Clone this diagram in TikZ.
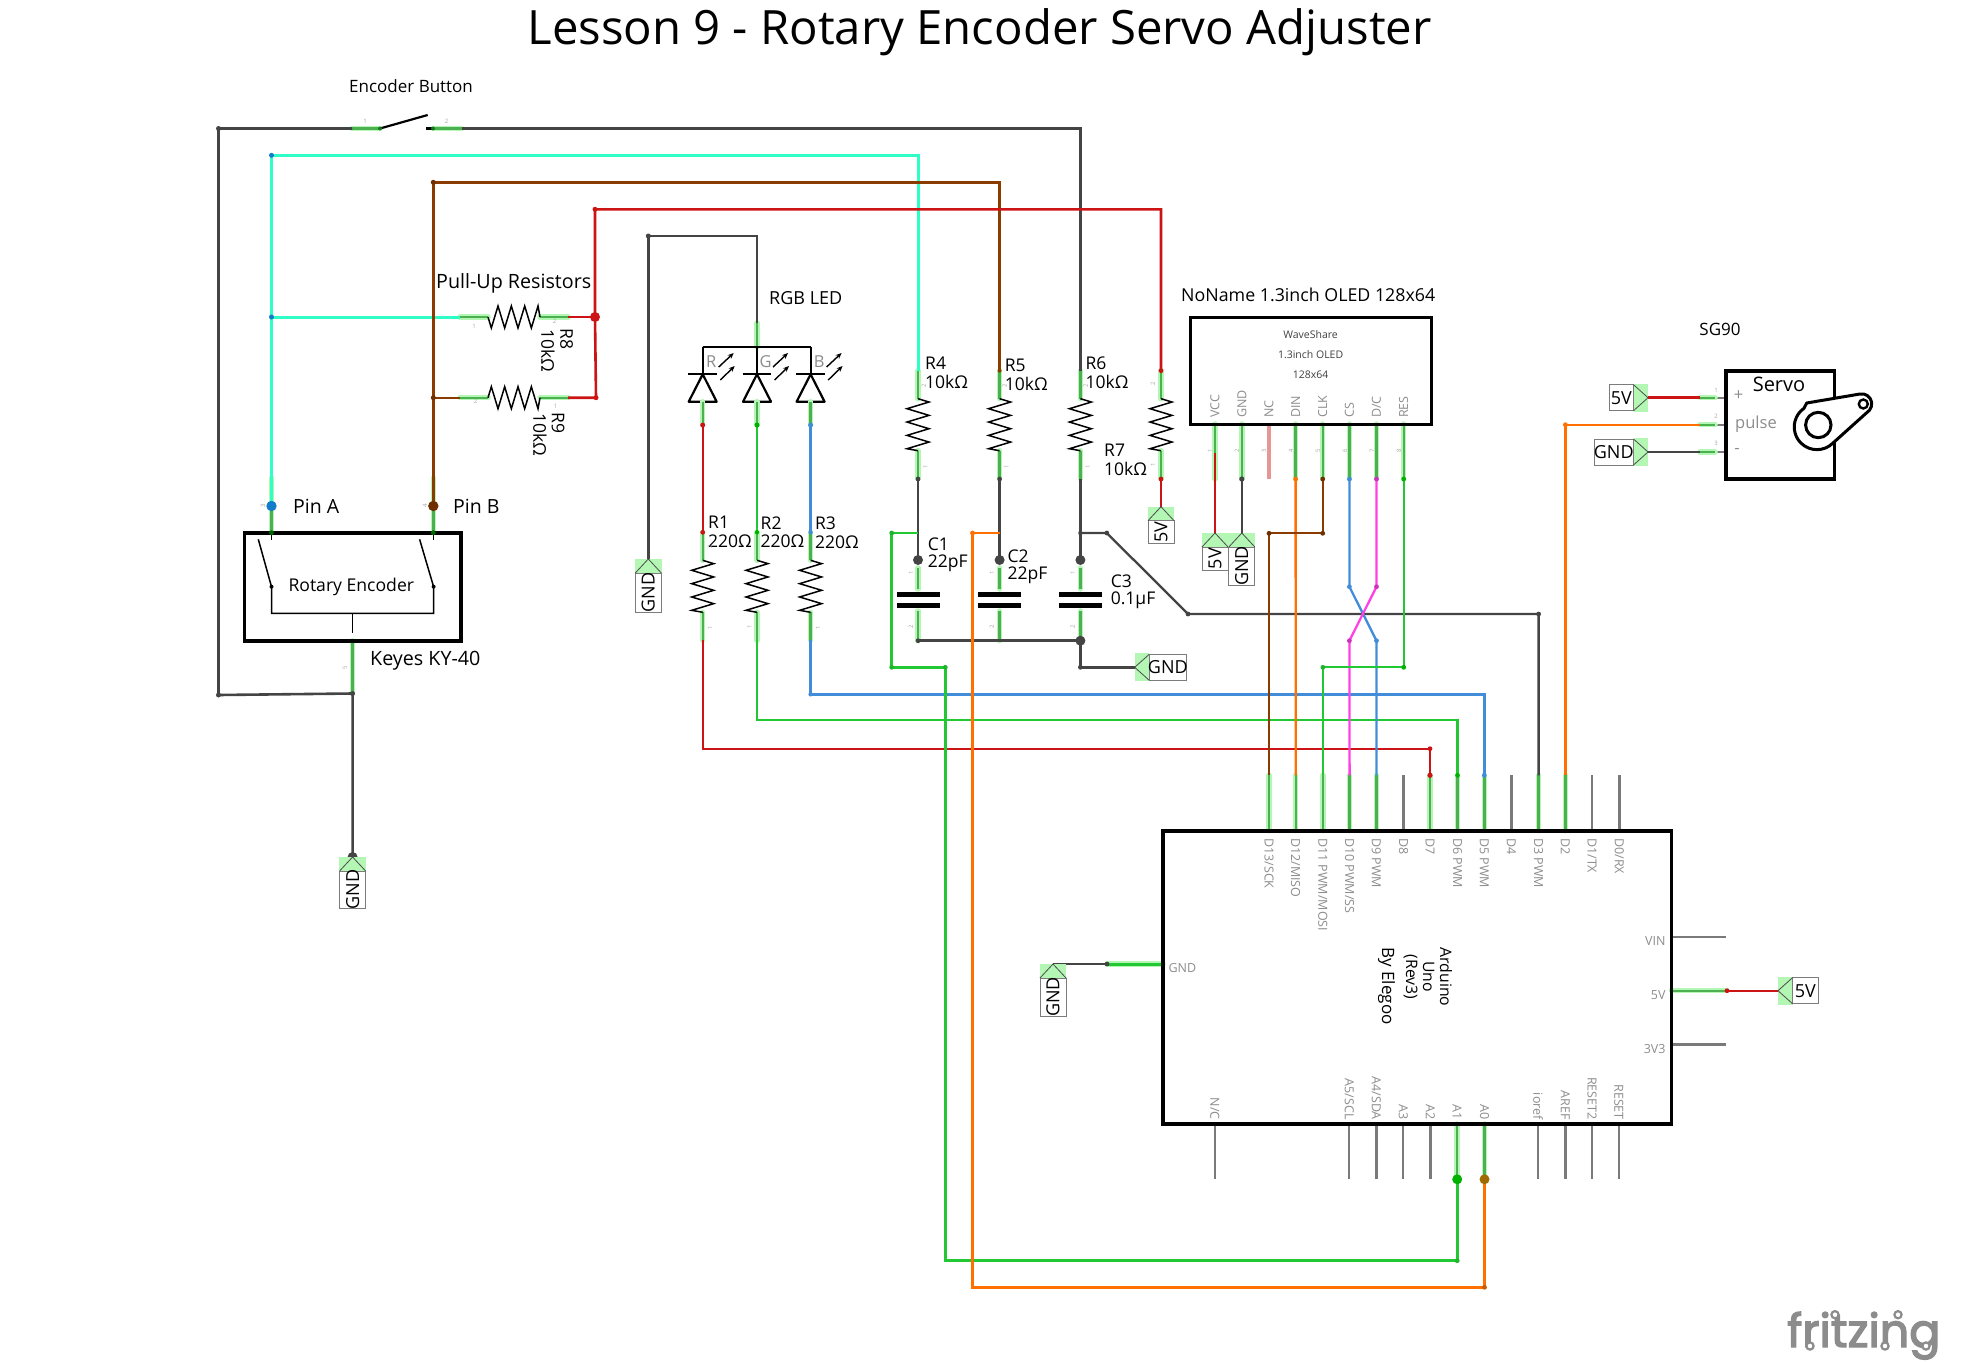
\documentclass[tikz,border=0pt]{standalone}
\usepackage{fontspec}
\setmainfont{Open Sans}
\newfontfamily\logofont[FakeBold=3]{Poppins}
\usetikzlibrary{arrows.meta}
\definecolor{wcyan}{HTML}{2FFFC6}
\definecolor{wbrown}{HTML}{8A3C00}
\definecolor{wred}{HTML}{CC1414}
\definecolor{wdark}{HTML}{444444}
\definecolor{wgreen}{HTML}{22C832}
\definecolor{worange}{HTML}{FF7000}
\definecolor{wblue}{HTML}{418DD9}
\definecolor{wmag}{HTML}{FF40E6}
\definecolor{halog}{HTML}{B4F7B4}
\definecolor{ping}{HTML}{4CAF50}
\definecolor{pingray}{HTML}{7A7A7A}
\definecolor{txtgray}{HTML}{8C8C8C}
\tikzset{
  wire/.style={line width=2.3pt,line join=miter},
  halopin/.style={line width=5.5pt,color=halog,line cap=round},
  corepin/.style={line width=2.4pt,color=ping},
  graypin/.style={line width=2.4pt,color=pingray},
  body/.style={line width=2.2pt,color=black,line join=round},
  board/.style={draw=black,line width=3.6pt},
  lab/.style={draw=wdark!70,line width=1pt},
  t16/.style={font=\fontsize{18}{20}\selectfont,inner sep=0pt,text=black},
  t17/.style={font=\fontsize{19.7}{21}\selectfont,inner sep=0pt,text=black},
  gl/.style={font=\fontsize{12.5}{14}\selectfont,inner sep=0pt,text=txtgray},
  pn/.style={font=\fontsize{6}{7}\selectfont,inner sep=0pt,text=black!35},
  ledl/.style={font=\fontsize{16.5}{18}\selectfont,inner sep=0pt,text=txtgray},
  pinsp/.style={font=\fontsize{17.5}{19}\selectfont,inner sep=0pt,text=black},
  res/.pic={
    \draw[halopin] (0,0)--(28,0); \draw[corepin] (0,0)--(28,0);
    \draw[halopin] (80,0)--(108,0); \draw[corepin] (80,0)--(108,0);
    \draw[line width=1.5pt,line join=miter] (28,0)--++(3.33,11)--++(6.67,-22)--++(6.67,22)--++(6.67,-22)--++(6.67,22)--++(6.67,-22)--++(6.67,22)--++(6.67,-22)--(80,0);
  },
  cap/.pic={
    \draw[halopin] (0,-32)--(0,-11); \draw[corepin] (0,-32)--(0,-11);
    \draw[halopin] (0,11)--(0,40.7); \draw[corepin] (0,11)--(0,40.7);
    \fill (-21.5,-8) rectangle (21.5,-2.6);
    \fill (-21.5,3) rectangle (21.5,8.4);
  }
}
\newcommand\gp[2]{\draw[halopin] (#1)--(#2);\draw[corepin] (#1)--(#2);}
\newcommand\labD[4]{\begin{scope}[shift={(#1)}]
  \fill[halog] (-13.4,0) rectangle (13.4,14);
  \draw[lab,fill=white] (-13,14) rectangle (13,#2);
  \draw[lab,line width=.8pt,draw=black!70] (-13,14)--(0,0)--(13,14);
  \node[rotate=90,#4] (lab#1) at (0,{(14+#2)/2}) {#3};
\end{scope}}
\newcommand\labL[4]{\begin{scope}[shift={(#1)}]
  \fill[halog] (-14.5,-14) rectangle (0,14);
  \draw[lab,fill=white] (-14.5,-13) rectangle (-#2,13);
  \draw[lab,line width=.8pt,draw=black!70] (-14.5,-13)--(0,0)--(-14.5,13);
  \node[#4] (lab#1) at ({-(14.5+#2)/2},0) {#3};
\end{scope}}
\newcommand\labR[4]{\begin{scope}[shift={(#1)}]
  \fill[halog] (14.5,-14) rectangle (0,14);
  \draw[lab,fill=white] (14.5,-13) rectangle (#2,13);
  \draw[lab,line width=.8pt,draw=black!70] (14.5,-13)--(0,0)--(14.5,13);
  \node[#4] (lab#1) at ({(14.5+#2)/2},0) {#3};
\end{scope}}
\newcommand\ledsym[3]{\begin{scope}[shift={(#1)}]
  \draw[body] (0,0)--(0,27);
  \draw[body] (-14.3,27.3)--(14.3,27.3);
  \draw[body] (0,27.3)--(-14,54.7)--(14,54.7)--cycle;
  \gp{0,54.7}{0,78}
  \node[ledl] (led#2) at (8.5,14.7) {#2};
  \draw[line width=1.4pt,-{Stealth[length=6pt,width=5pt]}] (16,20)--(31,6);
  \draw[line width=1.4pt,-{Stealth[length=6pt,width=5pt]}] (17.6,33)--(32,19);
\end{scope}}
\newcommand\jn[3]{\fill[#1] (#2) circle[radius=#3pt];}
\begin{document}
\begin{tikzpicture}[x=1pt,y=-1pt]
\useasboundingbox (0,0) rectangle (1962,1362);
% named points
\coordinate (swL) at (218.5,128.5);
\coordinate (s1a) at (352,128.5);
\coordinate (s1b) at (380,128.5);
\coordinate (s1c) at (427.7,115);
\coordinate (s2z) at (426,128.5);
\coordinate (s2a) at (433,128.5);
\coordinate (s2b) at (461.7,128.5);
\coordinate (swR) at (1080.4,128.5);
\coordinate (cyTL) at (271.5,155.3);
\coordinate (cyTR) at (918,155.3);
\coordinate (brTL) at (433.3,182.3);
\coordinate (brTR) at (999.6,182.3);
\coordinate (reTL) at (595,209.3);
\coordinate (reTR) at (1161,209.3);
\coordinate (ldTL) at (648.3,236);
\coordinate (ldTR) at (757,236);
\coordinate (cyJ) at (271.5,317);
\coordinate (r8a) at (460,317);
\coordinate (r8b) at (568,317);
\coordinate (reJ) at (595,317);
\coordinate (brJ) at (433.3,397.7);
\coordinate (r9a) at (460,397.7);
\coordinate (r9b) at (568,397.7);
\coordinate (reB) at (596,397.7);
\coordinate (pA) at (271.5,506);
\coordinate (pB) at (433.3,506);
\coordinate (pAt) at (271.5,478);
\coordinate (pBt) at (433.3,478);
\coordinate (pAb) at (271.5,532.7);
\coordinate (pBb) at (433.3,532.7);
\coordinate (pC) at (352.6,640.7);
\coordinate (pCb) at (352.6,693.5);
\coordinate (swLb) at (218.5,695);
\coordinate (gE) at (352.6,857);
\coordinate (gL) at (648.3,559);
\coordinate (ledR) at (702.7,347);
\coordinate (ledG) at (757,347);
\coordinate (ledB) at (810.6,347);
\coordinate (ledGt) at (757,323);
\coordinate (ldR) at (702.7,425);
\coordinate (ldG) at (757,425);
\coordinate (ldB) at (810.6,425);
\coordinate (r1a) at (702.7,532.3);
\coordinate (r2a) at (757,532.3);
\coordinate (r3a) at (810.6,532.3);
\coordinate (r1b) at (702.7,640);
\coordinate (r2b) at (757,640);
\coordinate (r3b) at (810.6,640);
\coordinate (r1c) at (702.7,748.7);
\coordinate (r2c) at (757,720);
\coordinate (r3c) at (810.6,694.3);
\coordinate (d7t) at (1430,748.7);
\coordinate (d6t) at (1457.5,720);
\coordinate (d5t) at (1484.3,694.3);
\coordinate (d13) at (1269,775.3);
\coordinate (d12) at (1295.7,775.3);
\coordinate (d11) at (1322.9,775.3);
\coordinate (d10) at (1349.6,775.3);
\coordinate (d9) at (1376.4,775.3);
\coordinate (d8) at (1403.6,775.3);
\coordinate (d7) at (1430,775.3);
\coordinate (d6) at (1457.5,775.3);
\coordinate (d5) at (1484.3,775.3);
\coordinate (d4) at (1511.4,775.3);
\coordinate (d3) at (1538.6,775.3);
\coordinate (d2) at (1565.4,775.3);
\coordinate (d1) at (1592,775.3);
\coordinate (d0) at (1619.3,775.3);
\coordinate (r4t) at (918,370.7);
\coordinate (r5t) at (999.6,370.7);
\coordinate (r6t) at (1080.4,370.7);
\coordinate (r7t) at (1161,370.7);
\coordinate (r4b) at (918,479);
\coordinate (r5b) at (999.6,479);
\coordinate (r6b) at (1080.4,479);
\coordinate (r7b) at (1161,479);
\coordinate (g7) at (1161,506.7);
\coordinate (c1) at (918,600);
\coordinate (c2) at (999.6,600);
\coordinate (c3) at (1080.4,600);
\coordinate (c1t) at (918,560);
\coordinate (c2t) at (999.6,560);
\coordinate (c3t) at (1080.4,560);
\coordinate (c1b) at (918,640.7);
\coordinate (c3b) at (1080.4,640.7);
\coordinate (gC) at (1134.7,667.3);
\coordinate (gCa) at (1080.4,667.3);
\coordinate (c1J) at (918,533);
\coordinate (c2J) at (999.6,533);
\coordinate (c3J) at (1080.4,533);
\coordinate (grA) at (891.7,533);
\coordinate (grB) at (891.7,667.3);
\coordinate (grC) at (945.3,667.3);
\coordinate (grD) at (945.3,1260.7);
\coordinate (grE) at (1457.2,1260.7);
\coordinate (a1) at (1457.2,1179.3);
\coordinate (orA) at (972.5,533);
\coordinate (orD) at (972.5,1287.3);
\coordinate (orE) at (1484.5,1287.3);
\coordinate (a0) at (1484.5,1179.3);
\coordinate (dgA) at (1106.8,533);
\coordinate (dgB) at (1188,614);
\coordinate (dgC) at (1538.6,614);
\coordinate (o1) at (1215,479);
\coordinate (o2) at (1241.8,479);
\coordinate (o3) at (1269,479);
\coordinate (o4) at (1295.6,479);
\coordinate (o5) at (1322.7,479);
\coordinate (o6) at (1349.4,479);
\coordinate (o7) at (1376.5,479);
\coordinate (o8) at (1403.7,479);
\coordinate (o1r) at (1215,453);
\coordinate (g1) at (1215,533);
\coordinate (g2) at (1241.8,533);
\coordinate (cka) at (1322.7,533.3);
\coordinate (ckb) at (1269,533.3);
\coordinate (xa) at (1349.4,586.7);
\coordinate (xb) at (1376.5,586.7);
\coordinate (xc) at (1349.4,640.7);
\coordinate (xd) at (1376.5,640.7);
\coordinate (rsa) at (1403.7,667.3);
\coordinate (rsb) at (1322.9,667.3);
\coordinate (d2t) at (1565.4,424.7);
\coordinate (sv1) at (1700,397.7);
\coordinate (sv2) at (1700,424.7);
\coordinate (sv3) at (1700,452);
\coordinate (sv1m) at (1715,397.7);
\coordinate (sv2m) at (1715,424.7);
\coordinate (sv3m) at (1715,452);
\coordinate (sv1e) at (1726,397.7);
\coordinate (sv2e) at (1726,424.7);
\coordinate (sv3e) at (1726,452);
\coordinate (g5s) at (1648,397.7);
\coordinate (gGs) at (1648,452);
\coordinate (ardG) at (1163,964);
\coordinate (ardGm) at (1107,964);
\coordinate (gA) at (1053,964);
\coordinate (ard5) at (1671.4,990.7);
\coordinate (ard5m) at (1727,990.7);
\coordinate (g5r) at (1778,990.7);
% gray unconnected Arduino pins
\foreach \p in {d8,d4,d1,d0} {\draw[graypin] (\p)--++(0,55.4);}
\foreach \x in {1214.8,1349.2,1376.4,1403.2,1430.4,1538,1565.3,1592,1618.8} {\draw[graypin] (\x,1124)--(\x,1179.3);}
\draw[graypin] (1671.4,937)--(1726.4,937);
\draw[graypin] (1671.4,1044.3)--(1726.4,1044.3);
% green pins
\foreach \p in {d13,d12,d11,d10,d9,d7,d6,d5,d3,d2} {\draw[halopin] (\p)--++(0,55.4);\draw[corepin] (\p)--++(0,55.4);}
\gp{1457.2,1124}{a1}
\gp{1484.5,1124}{a0}
\gp{ard5}{ard5m}
\gp{ardG}{ardGm}
\gp{s1a}{s1b}
\gp{s2a}{s2b}
\gp{pAt}{pAb}
\gp{pBt}{pBb}
\gp{pC}{pCb}
\gp{ledGt}{ledG}
\foreach \p/\q in {o1/1215,o2/1241.8,o4/1295.6,o5/1322.7,o6/1349.4,o7/1376.5,o8/1403.7} {\gp{\q,424}{\p}}
\draw[line width=4.5pt,color=wred!45] (1269,424)--(o3);
\foreach \p in {1,2,3} {\draw[graypin] (sv\p)--(sv\p e); \draw[halopin] (sv\p)--(sv\p m); \draw[corepin] (sv\p)--(sv\p m);}
% resistors
\pic at (r8a) {res};
\pic[yscale=-1] at (r9a) {res};
\pic[rotate=-90,yscale=-1] at (r1a) {res};
\pic[rotate=-90,yscale=-1] at (r2a) {res};
\pic[rotate=-90,yscale=-1] at (r3a) {res};
\pic[rotate=-90,yscale=-1] at (r4t) {res};
\pic[rotate=-90,yscale=-1] at (r5t) {res};
\pic[rotate=-90,yscale=-1] at (r6t) {res};
\pic[rotate=-90,yscale=-1] at (r7t) {res};
\pic at (c1) {cap};
\pic at (c2) {cap};
\pic at (c3) {cap};
% LEDs
\draw[body] (ledR)--(ledB);
\ledsym{ledR}{R}{}
\ledsym{ledG}{G}{}
\ledsym{ledB}{B}{}
% wires
\draw[wire,wdark,line width=2.6pt] (s1a)--(swL)--(swLb)--(pCb)--(gE);
\draw[wire,wdark,line width=2.6pt] (s2b)--(swR)--(r6t);
\draw[wire,wcyan,line width=3pt] (r8a)--(cyJ);
\draw[wire,wcyan,line width=3pt] (pA)--(cyTL)--(cyTR)--(r4t);
\draw[wire,wbrown,line width=3pt] (pB)--(brTL)--(brTR)--(r5t);
\draw[wire,wbrown] (brJ)--(r9a);
\draw[wire,wred] (r8b)--(reJ);
\draw[wire,wred,line width=2.6pt] (r7t)--(reTR)--(reTL)--(reJ)--(reB)--(r9b);
\draw[wire,wdark,line width=2.6pt] (gL)--(ldTL)--(ldTR)--(ledGt);
\draw[wire,wred] (ldR)--(r1a);
\draw[wire,wgreen] (ldG)--(r2a);
\draw[wire,wblue] (ldB)--(r3a);
\draw[wire,wred] (r1b)--(r1c)--(d7t)--(d7);
\draw[wire,wgreen] (r2b)--(r2c)--(d6t)--(d6);
\draw[wire,wblue,line width=2.7pt] (r3b)--(r3c)--(d5t)--(d5);
\draw[wire,wdark,line width=2.6pt] (r4b)--(c1t);
\draw[wire,wdark,line width=2.6pt] (r5b)--(c2t);
\draw[wire,wdark,line width=2.6pt] (r6b)--(c3t);
\draw[wire,wred] (r7b)--(g7);
\draw[wire,wdark,line width=2.6pt] (c1b)--(c3b)--(gCa)--(gC);
\draw[wire,wgreen,line width=2.6pt] (c1J)--(grA)--(grB)--(grC)--(grD)--(grE)--(a1);
\draw[wire,worange,line width=2.6pt] (c2J)--(orA)--(orD)--(orE)--(a0);
\draw[wire,wdark] (c3J)--(dgA)--(dgB)--(dgC)--(d3);
\draw[wire,wred] (o1r)--(g1);
\draw[wire,wdark] (o2)--(g2);
\draw[wire,worange] (o4)--(d12);
\draw[wire,wbrown] (o5)--(cka)--(ckb)--(d13);
\draw[wire,wblue] (o6)--(xa)--(xd)--(d9);
\draw[wire,wmag] (o7)--(xb)--(xc)--(d10);
\draw[wire,wgreen] (o8)--(rsa)--(rsb)--(d11);
\draw[wire,worange] (d2)--(d2t)--(sv2);
\draw[wire,wred,line width=3pt] (g5s)--(sv1);
\draw[wire,wdark] (gGs)--(sv3);
\draw[wire,wdark] (gA)--(ardGm);
\draw[wire,wgreen,line width=3pt] (ardGm)--(ardG);
\draw[wire,wred] (ard5m)--(g5r);
% switch
\draw[body] (s1b)--(s1c);
\draw[body] (s2z)--(s2a);
% encoder
\draw[board] (244.3,532.7) rectangle (461,640.7);
\draw[line width=1.5pt] (258.3,539.3)--(271.5,586.7)--(271.5,613.3)--(433.6,613.3)--(433.6,586.7)--(419.6,539.3);
\draw[line width=1.5pt] (271.5,533)--(271.5,540);
\draw[line width=1.5pt] (433.4,533)--(433.4,540);
\draw[line width=1.5pt] (352.6,613.3)--(352.6,633);
% boards
\draw[board] (1162.9,830.7) rectangle (1671.4,1124);
\draw[board,line width=3pt] (1190.4,317.7) rectangle (1431.3,424);
\draw[board,line width=3.4pt] (1726,371) rectangle (1834.3,479);
% servo horn
\draw[line width=3pt,fill=white,line join=round] (1806.7,403)--(1860,394) arc[start angle=-100,end angle=40,radius=10]--(1833,443) arc[start angle=45,end angle=235,radius=22.7] -- cycle;
\draw[line width=3pt,fill=white] (1818.3,425) circle[radius=12.7];
\draw[line width=2.4pt,fill=white] (1863.3,404) circle[radius=4.5];
% dots
\jn{wgreen!60!black}{s1b}{2}
\jn{wgreen!60!black}{s2a}{2}
\jn{wdark}{swL}{2.5}
\jn{wdark}{swLb}{2.5}
\jn{wdark}{pCb}{2.5}
\jn{wdark}{gE}{5}
\jn{cyan!60!blue}{cyTL}{2.5}
\jn{wbrown!80!black}{brTL}{2.5}
\jn{wred}{reTL}{2.5}
\jn{wdark}{ldTL}{2.5}
\jn{cyan!60!blue}{cyJ}{2.5}
\jn{wred}{reJ}{5}
\jn{wbrown!80!black}{brJ}{2.5}
\jn{wred}{reB}{2.5}
\jn{cyan!60!blue}{pA}{5.2}
\jn{wbrown!80!black}{pB}{5.2}
\jn{green!40!black}{pAb}{2.4}
\jn{green!40!black}{pBb}{2.4}
\jn{black}{271.5,586.7}{2}
\jn{black}{433.6,586.7}{2}
\jn{wred}{ldR}{2.5}
\jn{green!70!black}{ldG}{2.5}
\jn{wblue}{ldB}{2.5}
\jn{wred}{r1a}{2.4}
\jn{green!70!black}{r2a}{2.2}
\jn{wblue}{r3a}{2.2}
\jn{wbrown}{r5t}{2}
\jn{wred}{r7t}{2.4}
\jn{wred}{r7b}{2.4}
\jn{wdark}{r4b}{2.4}
\jn{wdark}{r5b}{2.4}
\jn{wdark}{c1t}{5}
\jn{wdark}{c2t}{5}
\jn{wdark}{c3t}{5}
\jn{wdark}{c1b}{2.4}
\jn{wdark}{c3b}{5}
\jn{wdark}{gCa}{2.4}
\jn{wgreen!90!black}{grA}{2.4}
\jn{wgreen!90!black}{grB}{2.4}
\jn{wgreen!90!black}{grC}{2.4}
\jn{wgreen!90!black}{grE}{2.4}
\jn{worange}{orA}{2.4}
\jn{worange!80!black}{orE}{2.4}
\jn{wdark}{c3J}{2.2}
\jn{wdark}{dgA}{2.4}
\jn{wdark}{dgB}{2.4}
\jn{wdark}{dgC}{2.4}
\jn{wdark}{o2}{2.6}
\jn{worange}{o4}{2.4}
\jn{wbrown!80!black}{o5}{2.4}
\jn{wblue}{o6}{2.4}
\jn{wmag!80!black}{o7}{2.4}
\jn{green!70!black}{o8}{2.4}
\jn{wbrown!80!black}{cka}{2.4}
\jn{wbrown!80!black}{ckb}{2.4}
\jn{wblue}{xa}{2.4}
\jn{wmag!80!black}{xb}{2.4}
\jn{wmag!80!black}{xc}{2.4}
\jn{wblue}{xd}{2.4}
\jn{green!70!black}{rsa}{2.4}
\jn{wgreen!90!black}{rsb}{2.4}
\jn{worange}{d2t}{2.4}
\jn{wred}{d7t}{2.4}
\jn{wred}{d7}{2.6}
\jn{green!70!black}{d6}{2.4}
\jn{wblue}{d5}{2.4}
\jn{wblue}{r3c}{2.2}
\jn{wdark}{ardGm}{2.4}
\jn{wred}{ard5m}{2.4}
\jn{green!70!black}{a1}{5}
\jn{orange!70!black!90!green}{a0}{5}
% power labels
\labD{gE}{51.3}{GND}{t16}
\labD{gL}{53}{GND}{t16}
\labD{g7}{36.6}{5V}{t16}
\labD{g1}{37}{5V}{t16}
\labD{g2}{52}{GND}{t16}
\labD{gA}{52}{GND}{t16}
\labR{gC}{51.7}{GND}{t16}
\labL{g5s}{39}{5V}{t16}
\labL{gGs}{54}{GND}{t16}
\labR{g5r}{40}{5V}{t16}
% titles and texts
\node[font=\fontsize{47.3}{50}\selectfont,inner sep=0pt] (title) at (979.5,32) {Lesson 9 - Rotary Encoder Servo Adjuster};
\node[t16,anchor=west,font=\fontsize{17}{19}\selectfont] (tbtn) at (349,86) {Encoder Button};
\node[t17,anchor=west] (tpull) at (436,283) {Pull-Up Resistors};
\node[t16,anchor=west] (tled) at (769,298) {RGB LED};
\node[t16,anchor=west,font=\fontsize{17.8}{20}\selectfont] (toled) at (1181,295) {NoName 1.3inch OLED 128x64};
\node[t16,anchor=center,font=\fontsize{17}{19}\selectfont] (tsg) at (1720,329) {SG90};
\node[t17,anchor=center,font=\fontsize{20}{22}\selectfont] (tservo) at (1779,384) {Servo};
\node[pinsp,anchor=west,font=\fontsize{19.5}{21}\selectfont] (tpa) at (293,506) {Pin A};
\node[pinsp,anchor=west,font=\fontsize{19.5}{21}\selectfont] (tpb) at (453,506) {Pin B};
\node[t16,anchor=center,font=\fontsize{17.6}{19}\selectfont] (trot) at (351.3,587) {Rotary Encoder};
\node[t17,anchor=west] (tky) at (370,661) {Keyes KY-40};
% resistor & capacitor labels
\newcommand\partv[4]{\node[pinsp,anchor=west] (#3a) at (#1,#2) {#3};\node[pinsp,anchor=west] (#3b) at (#1,{#2+19}) {#4};}
\partv{708}{522.7}{R1}{220Ω}
\partv{760.5}{522.7}{R2}{220Ω}
\partv{814.8}{523.7}{R3}{220Ω}
\partv{925}{363}{R4}{10kΩ}
\partv{1004.6}{365}{R5}{10kΩ}
\partv{1085.4}{363}{R6}{10kΩ}
\partv{1104}{450}{R7}{10kΩ}
\partv{927.7}{544.3}{C1}{22pF}
\partv{1007.3}{556}{C2}{22pF}
\partv{1110.6}{581}{C3}{0.1μF}
\node[pinsp,rotate=-90,anchor=west] (tr8a) at (566.7,328) {R8};
\node[pinsp,rotate=-90,anchor=west] (tr8b) at (548,329) {10kΩ};
\node[pinsp,rotate=-90,anchor=west] (tr9a) at (558,412.7) {R9};
\node[pinsp,rotate=-90,anchor=west] (tr9b) at (540,413) {10kΩ};
% OLED texts
\node[gl,text=black!75,font=\fontsize{10.5}{12}\selectfont] (w1) at (1310.6,334.3) {WaveShare};
\node[gl,text=black!75,font=\fontsize{10.5}{12}\selectfont] (w2) at (1310.6,354.3) {1.3inch OLED};
\node[gl,text=black!75,font=\fontsize{10.5}{12}\selectfont] (w3) at (1310.6,374.3) {128x64};
\foreach \x/\s in {1215/VCC,1241.8/GND,1269/NC,1295.6/DIN,1322.7/CLK,1349.4/CS,1376.5/D\slash C,1403.7/RES}
  {\node[gl,rotate=90,anchor=west] at (\x,418) {\s};}
% Arduino labels
\foreach \x/\s in {1269/D13\slash SCK,1295.7/D12\slash MISO,1322.9/D11 PWM\slash MOSI,1349.6/D10 PWM\slash SS,1376.4/D9 PWM,1403.6/D8,1430/D7,1457.5/D6 PWM,1484.3/D5 PWM,1511.4/D4,1538.6/D3 PWM,1565.4/D2,1592/D1\slash TX,1619.3/D0\slash RX}
  {\node[gl,rotate=-90,anchor=west] at (\x,838) {\s};}
\foreach \x/\s in {1214.8/N\slash C,1349.2/A5\slash SCL,1376.4/A4\slash SDA,1403.2/A3,1430.4/A2,1457.2/A1,1484.5/A0,1538/ioref,1565.3/AREF,1592/RESET2,1618.8/RESET}
  {\node[gl,rotate=-90,anchor=east] at (\x,1120) {\s};}
\node[gl,anchor=west] (agnd) at (1168.4,968) {GND};
\node[gl,anchor=east] (avin) at (1665.7,941.3) {VIN};
\node[gl,anchor=east] (a5v) at (1665.7,995) {5V};
\node[gl,anchor=east] (a3v) at (1665.7,1049) {3V3};
\node[t16,rotate=-90,font=\fontsize{15.8}{17}\selectfont] (tar1) at (1446,977) {Arduino};
\node[t16,rotate=-90,font=\fontsize{15.8}{17}\selectfont] (tar2) at (1428.6,976.5) {Uno};
\node[t16,rotate=-90,font=\fontsize{15.8}{17}\selectfont] (tar3) at (1410.7,977) {(Rev3)};
\node[t16,rotate=-90,font=\fontsize{17}{19}\selectfont] (tar4) at (1386.4,986) {By Elegoo};
% servo labels
\node[ledl] (sp) at (1738.6,396) {+};
\node[ledl,anchor=west] (spu) at (1735,424) {pulse};
\node[ledl] (sm) at (1737,451) {-};
% pin numbers
\node[pn] at (365,121.3) {1}; \node[pn] at (446.7,121.3) {2};
\node[pn] at (474,326) {1}; \node[pn] at (554.7,321.7) {2};
\node[pn] at (475.7,401.7) {2}; \node[pn] at (555.7,406.7) {1};
\foreach \x/\y/\s in {924/386/2,925.4/466.7/1,1004.6/386/2,1006.5/466.7/1,1085.7/386/2,1087.7/466.7/1,1153/384/2,1153/465/1,710/628/1,749.4/627/1,818/628/1,710/546.7/2,911/573/1,911/627/2,992/573/1,992/627/2,1072.7/573/1,1072.7/627/2,1210/451/1,1237/451/2,1264/451/3,1291/451/4,1318/451/5,1345/451/6,1372/451/7,1399/451/8,263/506/3,425/506/4,345/667.7/5}
  {\node[pn,rotate=90] at (\x,\y) {\s};}
\foreach \y/\s in {390/1,416.7/2,443.7/3} {\node[pn] at (1716,\y) {\s};}
% logo
\node[anchor=base west,inner sep=0pt,text=txtgray,font=\logofont\fontsize{46}{47}\selectfont] (logo) at (1787,1347) {fritzing};
\foreach \x/\y in {1835/1314.7,1898/1314.7,1810/1346,1885/1346,1926/1346}
  {\draw[txtgray,line width=2.2pt,fill=white] (\x,\y) circle[radius=3.6];}
\end{tikzpicture}
\end{document}
